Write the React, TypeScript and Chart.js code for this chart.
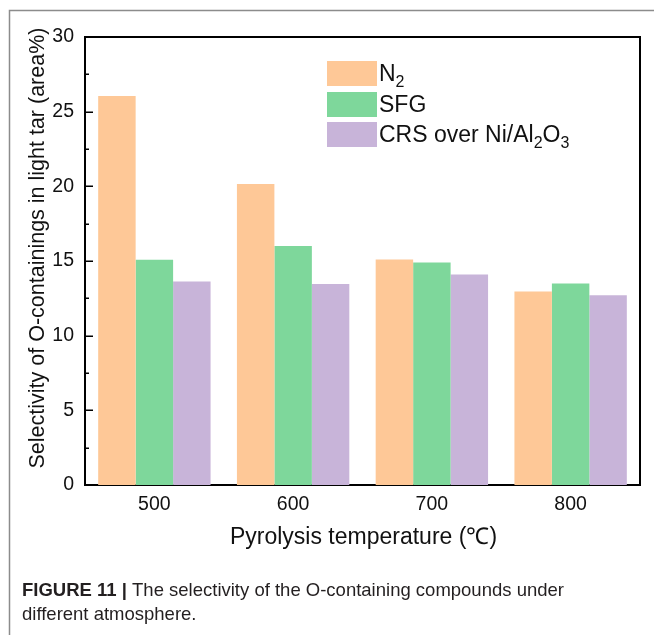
import React, { useEffect, useRef } from "react";
import { Chart, registerables } from "chart.js";

Chart.register(...registerables);

// Pyrolysis temperatures (°C) on the category axis
const temperatures = ["500", "600", "700", "800"];

// Selectivity of O-containing compounds in light tar (area%)
const n2Values = [26.05, 20.15, 15.1, 12.95];
const sfgValues = [15.08, 16.0, 14.9, 13.5];
const crsValues = [13.62, 13.46, 14.1, 12.7];

const yTicks = [0, 5, 10, 15, 20, 25, 30];
const yMinorTicks = [2.5, 7.5, 12.5, 17.5, 22.5, 27.5];

const COLORS = {
  n2: "rgb(254,200,151)",
  sfg: "rgb(126,215,155)",
  crs: "rgb(200,180,217)",
};

const FONT = "'Liberation Sans', Arial, Helvetica, sans-serif";

type Seg = { t: string; sub?: boolean };

function drawRich(ctx: CanvasRenderingContext2D, segs: Seg[], x: number, y: number, size: number) {
  let cx = x;
  for (const s of segs) {
    if (s.sub) {
      ctx.font = `${Math.round(size * 0.68)}px ${FONT}`;
      ctx.fillText(s.t, cx, y + size * 0.28);
    } else {
      ctx.font = `${size}px ${FONT}`;
      ctx.fillText(s.t, cx, y);
    }
    cx += ctx.measureText(s.t).width;
  }
}

const decorations = {
  id: "decorations",
  beforeDraw(chart: Chart) {
    const ctx = chart.ctx;
    ctx.save();
    ctx.fillStyle = "#fff";
    ctx.fillRect(0, 0, chart.width, chart.height);
    ctx.restore();
  },
  afterDraw(chart: Chart) {
    const ctx = chart.ctx;
    const area = chart.chartArea;
    const y = chart.scales.y;
    ctx.save();

    // outer figure frame (top and left rules)
    ctx.strokeStyle = "#8c8c8c";
    ctx.lineWidth = 1.5;
    ctx.beginPath();
    ctx.moveTo(chart.width, 10.5);
    ctx.lineTo(9.5, 10.5);
    ctx.lineTo(9.5, chart.height);
    ctx.stroke();

    // top and right sides of the plot box
    ctx.strokeStyle = "#000";
    ctx.lineWidth = 2;
    ctx.beginPath();
    ctx.moveTo(area.left, area.top);
    ctx.lineTo(area.right, area.top);
    ctx.lineTo(area.right, area.bottom);
    ctx.stroke();

    // inward tick marks on the value axis
    ctx.lineWidth = 1.5;
    ctx.beginPath();
    for (const v of yTicks) {
      const py = Math.round(y.getPixelForValue(v)) + 0.25;
      ctx.moveTo(area.left, py);
      ctx.lineTo(area.left + 8, py);
    }
    for (const v of yMinorTicks) {
      const py = Math.round(y.getPixelForValue(v)) + 0.25;
      ctx.moveTo(area.left, py);
      ctx.lineTo(area.left + 4, py);
    }
    ctx.stroke();

    // legend
    const legend: { color: string; label: Seg[] }[] = [
      { color: COLORS.n2, label: [{ t: "N" }, { t: "2", sub: true }] },
      { color: COLORS.sfg, label: [{ t: "SFG" }] },
      {
        color: COLORS.crs,
        label: [{ t: "CRS over Ni/Al" }, { t: "2", sub: true }, { t: "O" }, { t: "3", sub: true }],
      },
    ];
    const boxTops = [61, 92, 122];
    ctx.textBaseline = "alphabetic";
    ctx.textAlign = "left";
    legend.forEach((item, i) => {
      ctx.fillStyle = item.color;
      ctx.fillRect(327, boxTops[i], 50, 25);
      ctx.fillStyle = "#111";
      drawRich(ctx, item.label, 379, boxTops[i] + 20, 23);
    });

    // axis titles
    ctx.fillStyle = "#111";
    ctx.textAlign = "center";
    ctx.textBaseline = "middle";
    ctx.font = `23px ${FONT}`;
    ctx.fillText("Pyrolysis temperature (\u2103)", (area.left + area.right) / 2 + 1, 538);

    ctx.save();
    ctx.translate(38, 248);
    ctx.rotate(-Math.PI / 2);
    ctx.font = `21.5px ${FONT}`;
    ctx.fillText("Selectivity of O-containings in light tar (area%)", 0, 0);
    ctx.restore();

    // figure caption
    ctx.textAlign = "left";
    ctx.textBaseline = "alphabetic";
    ctx.fillStyle = "#231f20";
    ctx.font = `bold 18.5px ${FONT}`;
    const lead = "FIGURE 11 |";
    ctx.fillText(lead, 22, 596);
    const leadW = ctx.measureText(lead).width;
    ctx.font = `18.5px ${FONT}`;
    ctx.fillText(" The selectivity of the O-containing compounds under", 22 + leadW, 596);
    ctx.fillText("different atmosphere.", 22, 620);

    ctx.restore();
  },
};

export default function App() {
  const canvasRef = useRef<HTMLCanvasElement | null>(null);

  useEffect(() => {
    if (!canvasRef.current) return;
    const chart = new Chart(canvasRef.current, {
      type: "bar",
      data: {
        labels: temperatures,
        datasets: [
          { label: "N2", data: n2Values, backgroundColor: COLORS.n2 },
          { label: "SFG", data: sfgValues, backgroundColor: COLORS.sfg },
          { label: "CRS over Ni/Al2O3", data: crsValues, backgroundColor: COLORS.crs },
        ],
      },
      options: {
        responsive: false,
        animation: false,
        devicePixelRatio: 1,
        layout: { padding: { top: 37, right: 14, left: 0, bottom: 0 } },
        datasets: {
          bar: { barPercentage: 1, categoryPercentage: 0.81, borderWidth: 0 },
        },
        plugins: {
          legend: { display: false },
          tooltip: { enabled: false },
          title: { display: false },
        },
        scales: {
          x: {
            grid: { display: false, drawTicks: false },
            border: { display: true, color: "#000", width: 2 },
            ticks: { color: "#111", font: { family: FONT, size: 19.5 }, padding: 8 },
            afterFit(scale: any) {
              scale.height = 150;
            },
          },
          y: {
            min: 0,
            max: 30,
            grid: { display: false, drawTicks: false },
            border: { display: true, color: "#000", width: 2 },
            ticks: {
              stepSize: 5,
              color: "#111",
              font: { family: FONT, size: 19.5 },
              padding: 11,
            },
            afterFit(scale: any) {
              scale.width = 85;
            },
          },
        },
      },
      plugins: [decorations],
    });
    return () => chart.destroy();
  }, []);

  return (
    <div style={{ position: "absolute", left: 0, top: 0, width: 654, height: 635 }}>
      <canvas ref={canvasRef} width={654} height={635} />
    </div>
  );
}
